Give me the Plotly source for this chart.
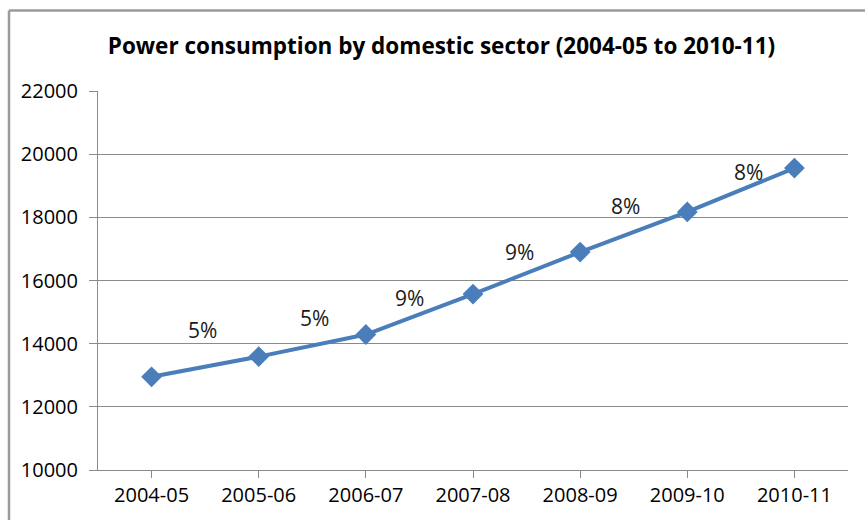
import plotly.graph_objects as go

# Domestic-sector power consumption by financial year
years = ["2004-05", "2005-06", "2006-07", "2007-08", "2008-09", "2009-10", "2010-11"]
consumption = [12950, 13590, 14290, 15570, 16900, 18170, 19560]
# Year-on-year growth (%) shown beside each point from 2005-06 onwards
growth_pct = [5, 5, 9, 9, 8, 8]

y_ticks = [10000, 12000, 14000, 16000, 18000, 20000, 22000]

# Page / plot-area geometry (pixels)
W, H = 865, 520
M_L, M_R, M_T, M_B = 98, 17, 91, 48
plot_w = W - M_L - M_R
plot_h = H - M_T - M_B

LINE_BLUE = "#4a7ebb"
GRID = "#8a8a8a"
FONT = "Open Sans"

fig = go.Figure()
fig.add_trace(go.Scatter(
    x=list(range(len(years))),
    y=consumption,
    mode="lines+markers",
    line=dict(color=LINE_BLUE, width=4),
    marker=dict(symbol="diamond", size=16, color=LINE_BLUE),
    hoverinfo="skip",
    showlegend=False,
))

# Growth labels, nudged (screen pixels) from the point they describe
label_nudge = [(-56, 27), (-51, 17), (-64, -4), (-61, 0), (-62, 6), (-46, -4)]
for i, g in enumerate(growth_pct):
    idx = i + 1
    dx, dy = label_nudge[i]
    fig.add_annotation(
        x=idx, y=consumption[idx], xref="x", yref="y",
        text=f"{g}%", showarrow=False,
        xshift=dx, yshift=dy,
        font=dict(family=FONT, size=21, color="#1a1a1a"),
    )

# Chart-area frame (top and left edges visible)
left_px, top_px = 9, 10
fx = (left_px - M_L) / plot_w
fy = 1 + (M_T - top_px) / plot_h
fig.add_shape(type="line", xref="paper", yref="paper",
              x0=fx, x1=2, y0=fy, y1=fy,
              line=dict(color="#9a9a9a", width=2.5))
fig.add_shape(type="line", xref="paper", yref="paper",
              x0=fx, x1=fx, y0=-2, y1=fy,
              line=dict(color="#9a9a9a", width=2.5))

fig.update_layout(
    width=W, height=H,
    margin=dict(l=M_L, r=M_R, t=M_T, b=M_B),
    paper_bgcolor="white", plot_bgcolor="white",
    title=dict(
        text="Power consumption by domestic sector (2004-05 to 2010-11)",
        xref="container", yref="container",
        x=441.5 / W, y=1 - 46 / H,
        xanchor="center", yanchor="middle",
        font=dict(family=FONT, size=22.5, color="#000000", weight="bold"),
    ),
    xaxis=dict(
        tickmode="array",
        tickvals=list(range(len(years))),
        ticktext=years,
        range=[-0.5, len(years) - 0.5],
        showgrid=False, zeroline=False,
        showline=True, linecolor=GRID, linewidth=1,
        ticks="outside", ticklen=7, tickcolor=GRID,
        tickfont=dict(family=FONT, size=20, color="#000000"),
        fixedrange=True,
    ),
    yaxis=dict(
        range=[10000, 22000],
        tickmode="array", tickvals=y_ticks,
        ticktext=[str(v) for v in y_ticks],
        showgrid=True, gridcolor=GRID, gridwidth=1,
        zeroline=False,
        showline=True, linecolor=GRID, linewidth=1,
        ticks="outside", ticklen=8, tickcolor=GRID,
        tickfont=dict(family=FONT, size=20, color="#000000"),
        ticklabelstandoff=7,
        fixedrange=True,
    ),
)

# Category tick marks sit on the boundaries between years
fig.update_xaxes(tickson="boundaries")

fig.write_html("out.html")
